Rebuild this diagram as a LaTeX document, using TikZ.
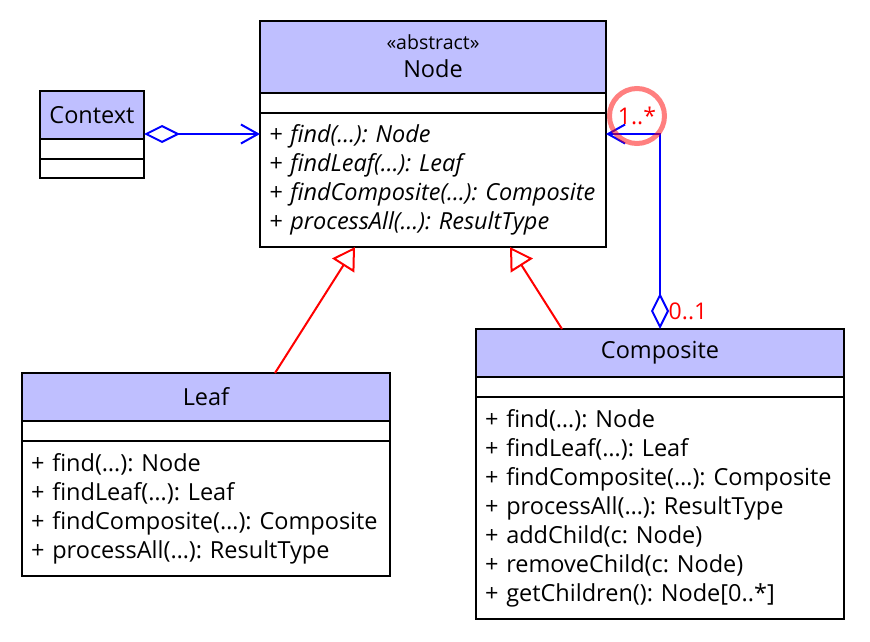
\documentclass[tikz,border=0pt]{standalone}
\usepackage{fontspec}
\setmainfont{Open Sans}
\usepackage{tikz}
\usetikzlibrary{arrows.meta,positioning}
\definecolor{hdrblue}{RGB}{191,191,255}
\frenchspacing
\hyphenpenalty=10000

\tikzset{
  cls/.style={draw, line width=2pt, anchor=north west, inner sep=0pt, outer sep=0pt},
  clshead/.style={cls, fill=hdrblue, minimum height=48pt, align=center, font=\fontsize{23.5}{26}\selectfont},
  clsattr/.style={cls, minimum height=20pt},
  clsops/.style={cls, inner xsep=9pt, align=left, font=\fontsize{23.5}{29}\selectfont},
  clsopsabs/.style={clsops, font=\fontsize{23.5}{29}\selectfont\itshape},
  inherit/.style={red, line width=2pt, -{Triangle[open, length=22pt, width=26pt]}},
  aggr/.style={blue, line width=2pt, {Diamond[open, length=36pt, width=18pt]}-{Straight Barb[length=17pt, width=19pt]}},
  mult/.style={red, font=\fontsize{23}{26}\selectfont, inner sep=0pt},
}

\begin{document}
\begin{tikzpicture}[x=1pt,y=-1pt]
\useasboundingbox (0,0) rectangle (870,642);

% abstract Node
\node (node_name)	at (260,21)	[clshead, minimum width=346pt, minimum height=72pt] {\raisebox{2pt}{\fontsize{19.5}{26}\selectfont «abstract»}\\[2pt]\raisebox{2pt}{Node}};
\node (node_attr)	at (node_name.south west)	[clsattr, minimum width=346pt] {};
\node (node_ops)	at (node_attr.south west)	[clsopsabs, text width=328pt, minimum height=134pt] {+ find(…): Node\\+ findLeaf(…): Leaf\\+ findComposite(…): Composite\\+ processAll(…): ResultType};
\coordinate (node_in)	at ([yshift=-21pt]node_ops.north west);
\coordinate (node_back)	at ([yshift=-21pt]node_ops.north east);

% Context
\node (context_name)	at (40,91)	[clshead, minimum width=104pt] {Context};
\node (context_attr)	at (context_name.south west)	[clsattr, minimum width=104pt] {};
\node (context_ops)	at (context_attr.south west)	[clsattr, minimum width=104pt, minimum height=19pt] {};

% Leaf
\node (leaf_name)	at (22,373)	[clshead, minimum width=368pt] {Leaf};
\node (leaf_attr)	at (leaf_name.south west)	[clsattr, minimum width=368pt] {};
\node (leaf_ops)	at (leaf_attr.south west)	[clsops, text width=350pt, minimum height=135pt] {+ find(…): Node\\+ findLeaf(…): Leaf\\+ findComposite(…): Composite\\+ processAll(…): ResultType};

% Composite
\node (comp_name)	at (476,329)	[clshead, minimum width=368pt] {Composite};
\node (comp_attr)	at (comp_name.south west)	[clsattr, minimum width=368pt] {};
\node (comp_ops)	at (comp_attr.south west)	[clsops, text width=350pt, minimum height=222pt] {+ find(…): Node\\+ findLeaf(…): Leaf\\+ findComposite(…): Composite\\+ processAll(…): ResultType\\+ addChild(c: Node)\\+ removeChild(c: Node)\\+ getChildren(): Node[0..*]};

\draw [inherit] ([xshift=69pt]leaf_name.north) -- ([xshift=-78pt]node_ops.south);
\draw [inherit] ([xshift=-98pt]comp_name.north) -- ([xshift=77pt]node_ops.south);
\draw [aggr] (context_name.east |- node_in) -- (node_in);
\draw [aggr] (comp_name.north) |- (node_back);

\node (mult_one)	at (688,311)	[mult] {0..1};
\node (mult_many)	at (637,116)	[mult] {1..*};
\draw [red, opacity=0.5, line width=5pt] (mult_many) circle (27.5pt);

\end{tikzpicture}
\end{document}
